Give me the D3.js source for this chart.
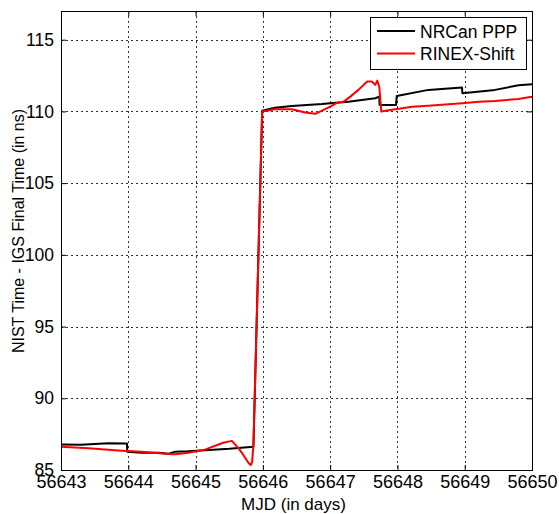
<!DOCTYPE html>
<html>
<head>
<meta charset="utf-8">
<script src="https://cdn.jsdelivr.net/npm/d3@7"></script>
<style>
  body { margin: 0; background: #fff; }
  svg { display: block; font-family: Arial, "Liberation Sans", sans-serif; }
</style>
</head>
<body>
<svg width="559" height="514"></svg>
<script>
// данные
const seriesNames = ["NRCan PPP", "RINEX-Shift"];
const seriesColors = ["#000000", "#ff0000"];

const mjdPPP = [56643.00, 56643.30, 56643.50, 56643.70, 56643.98, 56643.985, 56644.20, 56644.45,
                56644.60, 56644.70, 56644.89, 56645.20, 56645.50, 56645.86, 56645.99, 56646.18,
                56646.43, 56646.88, 56647.00, 56647.27, 56647.67, 56647.73, 56647.735, 56647.98,
                56647.99, 56648.46, 56648.96, 56648.965, 56649.45, 56649.80, 56650.00];
const valPPP = [86.78, 86.76, 86.82, 86.86, 86.84, 86.28, 86.21, 86.20,
                86.14, 86.28, 86.30, 86.40, 86.48, 86.62, 110.05, 110.25,
                110.38, 110.52, 110.57, 110.68, 110.92, 111.03, 110.45, 110.45,
                111.08, 111.50, 111.66, 111.27, 111.50, 111.82, 111.90];

const mjdShift = [56643.00, 56643.41, 56643.90, 56644.20, 56644.60, 56644.70, 56644.89, 56645.12,
                  56645.41, 56645.54, 56645.64, 56645.71, 56645.79, 56645.82, 56645.84, 56645.86,
                  56645.99, 56646.18, 56646.43, 56646.63, 56646.78, 56646.88, 56647.00, 56647.10,
                  56647.20, 56647.30, 56647.42, 56647.55, 56647.62, 56647.67, 56647.70, 56647.73,
                  56647.76, 56647.82, 56647.97, 56648.22, 56648.46, 56648.96, 56649.21, 56649.45,
                  56649.80, 56649.97, 56650.00];
const valShift = [86.62, 86.51, 86.35, 86.28, 86.12, 86.09, 86.21, 86.39,
                  86.90, 87.03, 86.51, 86.05, 85.47, 85.35, 85.56, 86.74,
                  110.00, 110.15, 110.15, 109.92, 109.83, 110.05, 110.33, 110.60,
                  110.68, 111.03, 111.50, 112.08, 112.08, 111.85, 112.15, 111.73,
                  109.99, 110.05, 110.15, 110.33, 110.40, 110.57, 110.68, 110.73,
                  110.87, 111.00, 111.00];

const xTicks = [56643, 56644, 56645, 56646, 56647, 56648, 56649, 56650];
const yTicks = [85, 90, 95, 100, 105, 110, 115];

function drawGraph() {
    const svg = d3.select("svg");

    // область вывода графика
    const attr_area = {
        left: 61,
        right: 532,
        top: 11,
        bottom: 470
    };

    const scX = d3.scaleLinear()
                  .domain([56643, 56650])
                  .range([attr_area.left, attr_area.right]);
    const scY = d3.scaleLinear()
                  .domain([85, 117])
                  .range([attr_area.bottom, attr_area.top]);

    // сетка (пунктир)
    const grid = svg.append("g")
        .attr("stroke", "#333")
        .attr("stroke-width", 1)
        .attr("stroke-dasharray", "2,3");
    grid.selectAll(".gx")
        .data(xTicks.slice(1, -1))
        .enter()
        .append("line")
        .attr("x1", d => Math.round(scX(d)) + 0.5)
        .attr("x2", d => Math.round(scX(d)) + 0.5)
        .attr("y1", attr_area.top)
        .attr("y2", attr_area.bottom);
    grid.selectAll(".gy")
        .data(yTicks.slice(1))
        .enter()
        .append("line")
        .attr("y1", d => Math.round(scY(d)) + 0.5)
        .attr("y2", d => Math.round(scY(d)) + 0.5)
        .attr("x1", attr_area.left)
        .attr("x2", attr_area.right);

    // оси: засечки внутрь
    const axisX = d3.axisBottom(scX).tickValues(xTicks).tickSize(-5).tickPadding(5).tickFormat(d3.format("d"));
    const axisY = d3.axisLeft(scY).tickValues(yTicks).tickSize(-5).tickPadding(7).tickFormat(d3.format("d"));

    const gX = svg.append("g")
        .attr("transform", `translate(0, ${attr_area.bottom})`)
        .call(axisX);
    gX.select(".domain").remove();
    gX.selectAll("text")
        .attr("font-size", 18)
        .attr("font-family", "Arial, 'Liberation Sans', sans-serif")
        .attr("fill", "#000");

    const gY = svg.append("g")
        .attr("transform", `translate(${attr_area.left}, 0)`)
        .call(axisY);
    gY.select(".domain").remove();
    gY.selectAll("text")
        .attr("font-size", 17.5)
        .attr("font-family", "Arial, 'Liberation Sans', sans-serif")
        .attr("fill", "#000");

    // засечки сверху и справа
    svg.append("g")
        .attr("transform", `translate(0, ${attr_area.top})`)
        .call(d3.axisTop(scX).tickValues(xTicks).tickSize(-5).tickFormat(""))
        .select(".domain").remove();
    svg.append("g")
        .attr("transform", `translate(${attr_area.right}, 0)`)
        .call(d3.axisRight(scY).tickValues(yTicks).tickSize(-5).tickFormat(""))
        .select(".domain").remove();

    // линии рядов
    const line = d3.line()
        .x(d => scX(d[0]))
        .y(d => scY(d[1]));

    const drawLine = (xs, ys, color) => {
        svg.append("path")
           .datum(xs.map((x, i) => [x, ys[i]]))
           .attr("d", line)
           .style("fill", "none")
           .style("stroke", color)
           .style("stroke-width", 2)
           .style("stroke-linejoin", "round");
    };

    drawLine(mjdPPP, valPPP, seriesColors[0]);
    drawLine(mjdShift, valShift, seriesColors[1]);

    // рамка
    svg.append("rect")
        .attr("x", attr_area.left + 0.5)
        .attr("y", attr_area.top + 0.5)
        .attr("width", attr_area.right - attr_area.left)
        .attr("height", attr_area.bottom - attr_area.top)
        .style("fill", "none")
        .style("stroke", "#000")
        .style("stroke-width", 1);

    // подписи осей
    svg.append("text")
        .attr("x", (attr_area.left + attr_area.right) / 2 - 3)
        .attr("y", 510)
        .attr("text-anchor", "middle")
        .attr("font-size", 17)
        .text("MJD (in days)");

    svg.append("text")
        .attr("transform", `translate(24, 231) rotate(-90)`)
        .attr("text-anchor", "middle")
        .attr("font-size", 16)
        .text("NIST Time - IGS Final Time (in ns)");

    // легенда
    const legend = svg.append("g");
    legend.append("rect")
        .attr("x", 370.5)
        .attr("y", 17.5)
        .attr("width", 156)
        .attr("height", 52)
        .style("fill", "#fff")
        .style("stroke", "#000");

    seriesNames.forEach((name, i) => {
        const y = 31 + i * 22.5;
        legend.append("line")
            .attr("x1", 377)
            .attr("x2", 415)
            .attr("y1", y)
            .attr("y2", y)
            .style("stroke", seriesColors[i])
            .style("stroke-width", 2);
        legend.append("text")
            .attr("x", 420)
            .attr("y", y + 6.5)
            .attr("font-size", 17.5)
            .text(name);
    });
}

drawGraph();
</script>
</body>
</html>
